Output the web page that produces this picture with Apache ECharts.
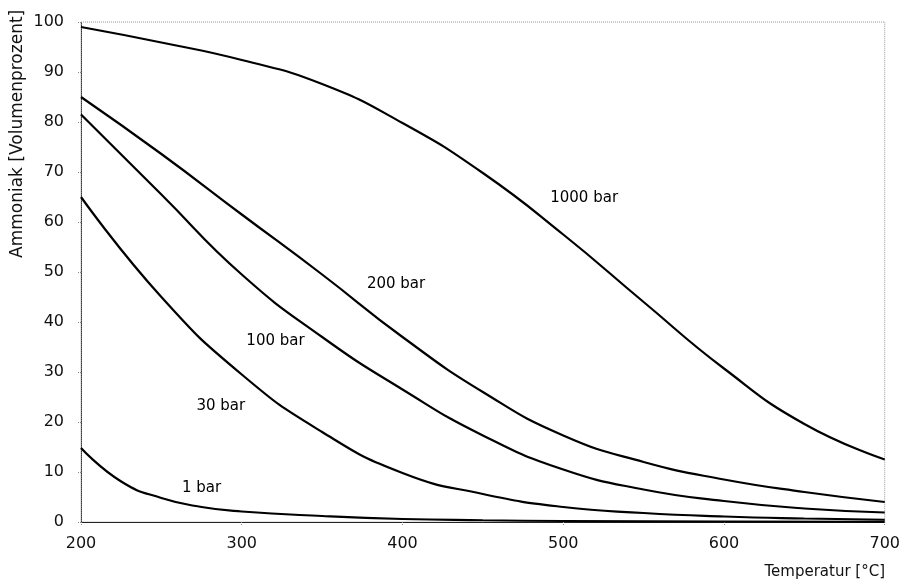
<!DOCTYPE html>
<html>
<head>
<meta charset="utf-8">
<script src="https://cdn.jsdelivr.net/npm/echarts@6/dist/echarts.min.js"></script>
<style>html,body{margin:0;padding:0;background:#fff}#c{width:903px;height:585px}</style>
</head>
<body>
<div id="c"></div>
<script>
// Temperatures (°C)
var temps = [200, 250, 300, 350, 400, 450, 500, 550, 600, 650, 700];
var temps1bar = [200, 225, 250, 275, 300, 350, 400, 450, 500, 600, 700];
// Ammonia volume percent per pressure
var bar1000 = [99, 95.9, 92.4, 87.6, 79.8, 69.8, 57.5, 44, 30.7, 19.6, 12.5];
var bar200  = [85, 73.6, 61.5, 49.5, 37, 26, 17.3, 12, 8.5, 6, 4];
var bar100  = [81.5, 65.5, 49.5, 37, 26.5, 17.3, 10.5, 6.5, 4.2, 2.7, 1.9];
var bar30   = [65, 45, 29.5, 18, 9.8, 5.6, 3, 1.8, 1.1, 0.7, 0.45];
var bar1    = [14.8, 8.1, 4.8, 3.0, 2.1, 1.2, 0.6, 0.35, 0.2, 0.1, 0.05];
// Curve labels: [text, temperature, value]
var curveLabels = [
  ['1000 bar', 513, 64.8],
  ['200 bar', 396, 47.6],
  ['100 bar', 321, 36.2],
  ['30 bar', 287, 23.2],
  ['1 bar', 275, 6.8]
];

function pairs(xs, ys){ return xs.map(function(x,i){ return [x, ys[i]]; }); }

var seriesDefs = [
  {name:'1000 bar', x:temps, y:bar1000},
  {name:'200 bar', x:temps, y:bar200},
  {name:'100 bar', x:temps, y:bar100},
  {name:'30 bar', x:temps, y:bar30},
  {name:'1 bar', x:temps1bar, y:bar1}
];

var font = 'DejaVu Sans, Liberation Sans, Arial, sans-serif';
var series = seriesDefs.map(function(s){
  var lab = curveLabels.filter(function(l){ return l[0] === s.name; })[0];
  return {
    name: s.name, type: 'line', smooth: 0.5, symbol: 'none',
    data: pairs(s.x, s.y),
    lineStyle: {color: '#000', width: 2.2},
    markPoint: {
      symbol: 'circle', symbolSize: 0, silent: true,
      label: {show: true, position: 'inside', formatter: lab[0], color: '#000', fontSize: 15, fontFamily: font},
      data: [{coord: [lab[1], lab[2]]}]
    }
  };
});

var chart = echarts.init(document.getElementById('c'));
chart.setOption({
  animation: false,
  backgroundColor: '#fff',
  grid: {left: 81, right: 18, top: 22, bottom: 63, show: true, borderColor: '#999', borderWidth: 1, borderType: 'dotted'},
  xAxis: {
    type: 'value', min: 200, max: 700, interval: 100,
    axisLine: {lineStyle: {color: '#222', width: 1}},
    axisTick: {show: true, length: 4, lineStyle: {color: '#888', type: 'dotted'}},
    axisLabel: {color: '#111', fontSize: 16, fontFamily: font, margin: 14},
    splitLine: {show: false}
  },
  yAxis: {
    type: 'value', min: 0, max: 100, interval: 10,
    axisLine: {show: true, lineStyle: {color: '#333', width: 1, type: 'dotted'}},
    axisTick: {show: true, length: 4, lineStyle: {color: '#888', type: 'dotted'}},
    axisLabel: {color: '#111', fontSize: 16, fontFamily: font, margin: 17},
    splitLine: {show: false}
  },
  graphic: [
    {type: 'text', position: [9, 258], rotation: Math.PI/2,
     style: {text: 'Ammoniak [Volumenprozent]', fontSize: 17, fontFamily: font, fill: '#111'}},
    {type: 'text', right: 18, top: 565,
     style: {text: 'Temperatur [°C]', fontSize: 15, fontFamily: font, fill: '#111'}}
  ],
  series: series
});
</script>
</body>
</html>
